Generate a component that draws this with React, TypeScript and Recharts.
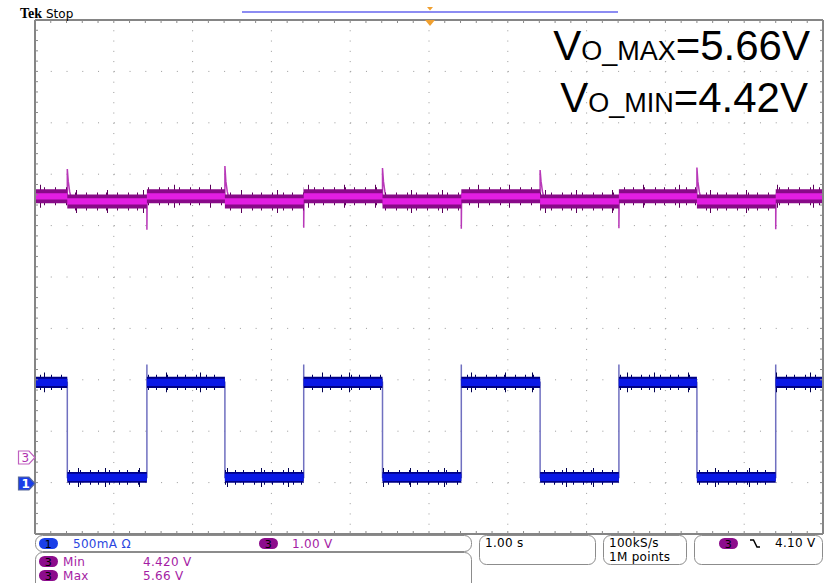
import React from 'react'
import {
  Area,
  CartesianGrid,
  ComposedChart,
  Line,
  ReferenceLine,
  Scatter,
  XAxis,
  YAxis,
} from 'recharts'

// load-step instants (s); the first edge is a falling one on ch1
const edgeTimes = [0.41, 1.42, 2.41, 3.41, 4.41, 5.41, 6.41, 7.41, 8.4, 9.4]

// ch1: load current (A) as [heavy, light]
const ch1Level = [0.975, 0.05]
const ch1Noise = [0.055, 0.052]
const ch1RiseOvershoot = 1.15

// ch3: output voltage (V) as [heavy load, light load]
const ch3Level = [5.07, 4.97]
const ch3Noise = [0.135, 0.135]
// ch3 transient extreme at every edge (V)
const ch3Peaks = [5.6, 4.42, 5.66, 4.46, 5.62, 4.44, 5.58, 4.45, 5.63, 4.43]
// ring-down after an upward peak (V)
const ch3Tail = [5.36, 5.16]

// graticule: 10 x 10 divisions, 1 s/div
const divs = [0, 1, 2, 3, 4, 5, 6, 7, 8, 9, 10]
const minor = Array.from({ length: 51 }, (_, i) => i / 5)

const W = 827
const H = 583

type Pt = { t: number; v: number | null }
type BandRow = {
  t: number
  far: [number, number]
  near: [number, number]
  band: [number, number]
  core: [number, number]
}

const bounds = [0, ...edgeTimes, 10]

function bandRows(level: number[], noise: number[], near: number, far: number, core: number): BandRow[] {
  const rows: BandRow[] = []
  for (let k = 0; k < bounds.length - 1; k++) {
    const c = level[k % 2]
    const n = noise[k % 2]
    for (const t of [bounds[k], bounds[k + 1]]) {
      rows.push({
        t,
        far: [c - n - far, c + n + far],
        near: [c - n - near, c + n + near],
        band: [c - n, c + n],
        core: [c - core, c + core],
      })
    }
  }
  return rows
}

const ch1Band = bandRows(ch1Level, ch1Noise, 0.02, 0.04, 0.035)
const ch3Band = bandRows(ch3Level, ch3Noise, 0.04, 0.09, 0.06)

// ch1 edges, with the overshoot on each rising step
const ch1Edges: Pt[] = [{ t: 0, v: ch1Level[0] }]
edgeTimes.forEach((t, i) => {
  ch1Edges.push({ t, v: ch1Level[i % 2] })
  if (i % 2 === 1) ch1Edges.push({ t, v: ch1RiseOvershoot })
  ch1Edges.push({ t, v: ch1Level[(i + 1) % 2] })
})
ch1Edges.push({ t: 10, v: ch1Level[edgeTimes.length % 2] })

// ch3 transients only, broken by nulls between edges
const ch3Spikes: Pt[] = []
edgeTimes.forEach((t, i) => {
  const from = ch3Level[i % 2]
  const to = ch3Level[(i + 1) % 2]
  ch3Spikes.push({ t, v: from }, { t, v: ch3Peaks[i] })
  if (i % 2 === 0) {
    ch3Spikes.push({ t: t + 0.012, v: ch3Tail[0] }, { t: t + 0.03, v: ch3Tail[1] }, { t: t + 0.06, v: to })
  } else {
    ch3Spikes.push({ t: t + 0.004, v: to })
  }
  ch3Spikes.push({ t: t + 0.07, v: null })
})

// inward ticks on the four graticule edges
const frameTicks = [
  ...minor.map((t) => ({ t, v: 10, d: 'down' })),
  ...minor.map((t) => ({ t, v: 0, d: 'up' })),
  ...minor.map((v) => ({ t: 0, v, d: 'right' })),
  ...minor.map((v) => ({ t: 10, v, d: 'left' })),
]

const tickShape = (p: any) => {
  const { cx, cy, payload } = p
  let x2 = cx
  let y2 = cy
  if (payload.d === 'down') y2 = cy + 3
  else if (payload.d === 'up') y2 = cy - 3
  else if (payload.d === 'right') x2 = cx + 3
  else x2 = cx - 3
  return <line x1={cx} y1={cy} x2={x2} y2={y2} stroke="#8a8a8a" strokeWidth={1} />
}

const BLUE_TXT = '#2a46e0'
const PURPLE_TXT = '#a41ca4'
const PILL_BLUE = '#1a3ee8'
const PILL_PURPLE = '#8c0c8c'
const BOX = '#8c8c8c'

function Pill({ x, y, n, fill }: { x: number; y: number; n: string; fill: string }) {
  return (
    <g>
      <rect x={x} y={y} width={19} height={11} rx={5.5} fill={fill} />
      <text x={x + 9.5} y={y + 9.5} textAnchor="middle" fontSize={11} fill="#000">
        {n}
      </text>
    </g>
  )
}

function Hair({ id, color, width, xs }: { id: string; color: string; width: number; xs: number[] }) {
  return (
    <pattern id={id} width={width} height={10} patternUnits="userSpaceOnUse">
      {xs.map((x) => (
        <rect key={x} x={x} y={0} width={1} height={10} fill={color} />
      ))}
    </pattern>
  )
}

export default function App() {
  return (
    <div
      style={{
        position: 'absolute',
        left: 0,
        top: 0,
        width: W,
        height: H,
        background: '#fff',
        overflow: 'hidden',
      }}
    >
      <div style={{ position: 'absolute', left: 0, top: 0 }}>
        <ComposedChart width={W} height={H} margin={{ top: 20, left: 35, right: 4, bottom: 49 }}>
          <defs>
            <Hair id="hair-ch1-near" color="#000060" width={29} xs={[3, 11, 22]} />
            <Hair id="hair-ch1-far" color="#000050" width={61} xs={[17, 44]} />
            <Hair id="hair-ch3-near" color="#5e005e" width={31} xs={[4, 13, 24]} />
            <Hair id="hair-ch3-far" color="#5a005a" width={67} xs={[9, 40]} />
          </defs>
          <XAxis dataKey="t" type="number" domain={[0, 10]} ticks={divs} hide allowDataOverflow />
          <YAxis yAxisId="amp" type="number" domain={[-0.5, 4.5]} hide allowDataOverflow />
          <YAxis yAxisId="volt" type="number" domain={[-1.5, 8.5]} hide allowDataOverflow />
          <YAxis yAxisId="div" dataKey="v" type="number" domain={[0, 10]} ticks={divs} hide />

          <CartesianGrid yAxisId="div" vertical={false} stroke="#9a9a9a" strokeDasharray="1 14.76" />
          <CartesianGrid yAxisId="div" horizontal={false} stroke="#9a9a9a" strokeDasharray="1 9.28" />

          {/* ch1 current */}
          <Line
            yAxisId="amp"
            data={ch1Edges}
            dataKey="v"
            type="linear"
            stroke="#7070c0"
            strokeWidth={1.5}
            dot={false}
            isAnimationActive={false}
            zIndex={100}
          />
          <Area yAxisId="amp" data={ch1Band} dataKey="far" type="linear" stroke="none" fill="url(#hair-ch1-far)" fillOpacity={1} isAnimationActive={false} zIndex={110} />
          <Area yAxisId="amp" data={ch1Band} dataKey="near" type="linear" stroke="none" fill="url(#hair-ch1-near)" fillOpacity={1} isAnimationActive={false} zIndex={111} />
          <Area yAxisId="amp" data={ch1Band} dataKey="band" type="linear" stroke="none" fill="#000084" fillOpacity={1} isAnimationActive={false} zIndex={112} />
          <Area yAxisId="amp" data={ch1Band} dataKey="core" type="linear" stroke="none" fill="#0a18e6" fillOpacity={1} isAnimationActive={false} zIndex={113} />

          {/* ch3 output voltage */}
          <Line
            yAxisId="volt"
            data={ch3Spikes}
            dataKey="v"
            type="linear"
            stroke="#b838b8"
            strokeWidth={1.5}
            dot={false}
            connectNulls={false}
            isAnimationActive={false}
            zIndex={120}
          />
          <Area yAxisId="volt" data={ch3Band} dataKey="far" type="linear" stroke="none" fill="url(#hair-ch3-far)" fillOpacity={1} isAnimationActive={false} zIndex={121} />
          <Area yAxisId="volt" data={ch3Band} dataKey="near" type="linear" stroke="none" fill="url(#hair-ch3-near)" fillOpacity={1} isAnimationActive={false} zIndex={122} />
          <Area yAxisId="volt" data={ch3Band} dataKey="band" type="linear" stroke="none" fill="#880a88" fillOpacity={1} isAnimationActive={false} zIndex={123} />
          <Area yAxisId="volt" data={ch3Band} dataKey="core" type="linear" stroke="none" fill="#e21ee2" fillOpacity={1} isAnimationActive={false} zIndex={124} />

          {/* graticule frame */}
          <ReferenceLine yAxisId="div" y={0} stroke="#858585" strokeWidth={2} zIndex={200} />
          <ReferenceLine yAxisId="div" y={10} stroke="#858585" strokeWidth={2} zIndex={200} />
          <ReferenceLine yAxisId="div" x={0} stroke="#858585" strokeWidth={2} zIndex={200} />
          <ReferenceLine yAxisId="div" x={10} stroke="#858585" strokeWidth={2} zIndex={200} />
          <Scatter yAxisId="div" data={frameTicks} dataKey="v" shape={tickShape} isAnimationActive={false} zIndex={210} />
        </ComposedChart>
      </div>

      <svg
        width={W}
        height={H}
        style={{ position: 'absolute', left: 0, top: 0, pointerEvents: 'none' }}
        fontFamily='"DejaVu Sans", sans-serif'
      >
        {/* header */}
        <text x={20} y={18} fontFamily='"Liberation Serif", serif' fontWeight="bold" fontSize={14} fill="#000">
          Tek
        </text>
        <text x={46} y={18} fontSize={12} fill="#000">
          Stop
        </text>
        <line x1={242} x2={618} y1={12} y2={12} stroke="#8c8cf2" strokeWidth={2} />
        <path d="M427 7 H433 L430 10.5 Z" fill="#f0a030" />
        <path d="M425 20 H435 L430 26 Z" fill="#f0a030" />

        {/* annotation */}
        <g fontFamily='"Liberation Sans", Arial, sans-serif' fill="#000">
          <text x={810} y={60} textAnchor="end" fontSize={42}>
            V<tspan fontSize={27}>O_MAX</tspan>=5.66V
          </text>
          <text x={808} y={112} textAnchor="end" fontSize={42}>
            V<tspan fontSize={27}>O_MIN</tspan>=4.42V
          </text>
        </g>

        {/* channel ground markers */}
        <path d="M18.5 451 H29 L35 457.5 L29 464 H18.5 Z" fill="#fff" stroke="#c060c0" strokeWidth={1.2} />
        <text x={21.5} y={462} fontSize={12} fill="#b030b0">
          3
        </text>
        <path d="M18.5 477 H29 L35 483.5 L29 490 H18.5 Z" fill={PILL_BLUE} stroke="#5a6a9a" strokeWidth={1.2} />
        <text x={21.5} y={488} fontSize={12} fill="#fff" fontWeight="bold">
          1
        </text>

        {/* status readouts */}
        <g fill="none" stroke={BOX} strokeWidth={1}>
          <rect x={35.5} y={535.5} width={436} height={16} rx={7} />
          <rect x={35.5} y={552.5} width={436} height={40} rx={7} />
          <rect x={479.5} y={535.5} width={116} height={29} rx={7} />
          <rect x={603.5} y={535.5} width={83} height={29} rx={7} />
          <rect x={694.5} y={535.5} width={128} height={29} rx={7} />
        </g>
        <g fontSize={12} letterSpacing={0.3}>
          <Pill x={39} y={538} n="1" fill={PILL_BLUE} />
          <text x={73} y={548} fill={BLUE_TXT}>
            500mA Ω
          </text>
          <Pill x={259} y={538} n="3" fill={PILL_PURPLE} />
          <text x={292} y={548} fill={PURPLE_TXT}>
            1.00 V
          </text>

          <Pill x={39} y={556} n="3" fill={PILL_PURPLE} />
          <text x={63} y={566} fill={PURPLE_TXT}>
            Min
          </text>
          <text x={143} y={566} fill={PURPLE_TXT}>
            4.420 V
          </text>
          <Pill x={39} y={570} n="3" fill={PILL_PURPLE} />
          <text x={63} y={580} fill={PURPLE_TXT}>
            Max
          </text>
          <text x={143} y={580} fill={PURPLE_TXT}>
            5.66 V
          </text>

          <text x={485} y={547} fill="#000">
            1.00 s
          </text>
          <text x={609} y={547} fill="#000">
            100kS/s
          </text>
          <text x={609} y={561} fill="#000">
            1M points
          </text>

          <Pill x={719} y={538} n="3" fill={PILL_PURPLE} />
          <path d="M750 540 H753.5 L757 547 H760" fill="none" stroke="#000" strokeWidth={1.5} />
          <text x={775} y={547} fill="#000">
            4.10 V
          </text>
        </g>
      </svg>
    </div>
  )
}
